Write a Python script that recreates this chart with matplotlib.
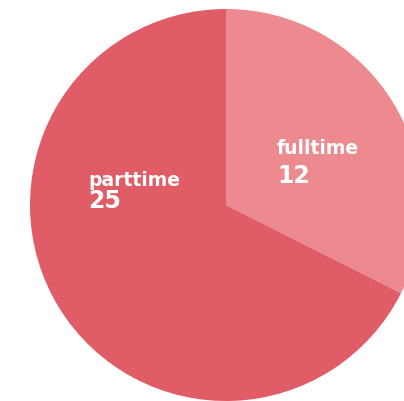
import matplotlib.pyplot as plt

categories = ["fulltime", "parttime"]
values = [12, 25]
colors = ["#ec8a90", "#e05c66"]

# label anchors in pixel space: (left, name baseline, number baseline)
label_pos = {"fulltime": (278, 154, 183), "parttime": (89, 186, 208)}

W, H = 404, 401
fig = plt.figure(figsize=(W / 100, H / 100), dpi=100)
ax = fig.add_axes([0, 0, 1, 1])

cx, cy, r = 226, H - 205, 196
ax.pie(values, colors=colors, startangle=90, counterclock=False,
       center=(cx, cy), radius=r, frame=True,
       wedgeprops=dict(linewidth=0))
ax.set_xlim(0, W)
ax.set_ylim(0, H)
ax.set_aspect("equal")
ax.axis("off")

for name, val in zip(categories, values):
    x, y1, y2 = label_pos[name]
    ax.text(x - 1, H - y1, name, color="white", fontsize=13.5, fontweight="bold",
            family="DejaVu Sans", ha="left", va="baseline")
    ax.text(x - 1, H - y2, str(val), color="white", fontsize=17,
            fontweight="bold", family="DejaVu Sans", ha="left", va="baseline")

fig.savefig("out.png", dpi=100)
